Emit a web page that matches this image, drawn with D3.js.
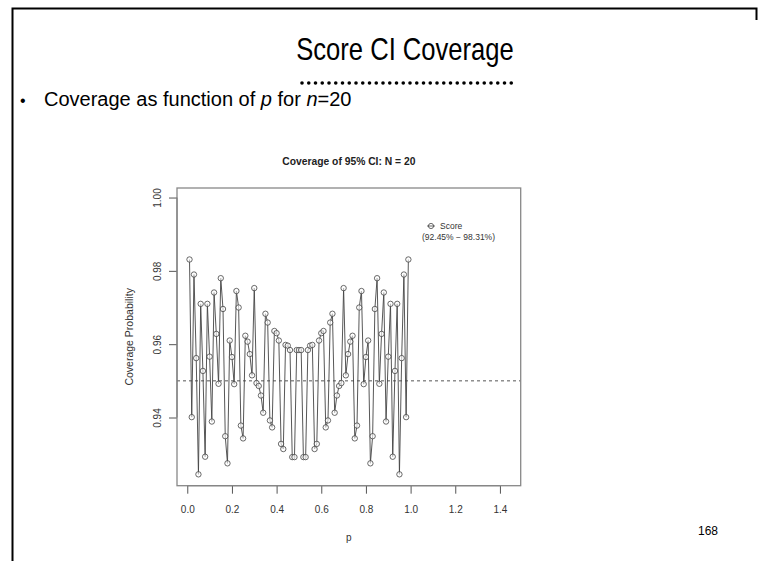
<!DOCTYPE html>
<html>
<head>
<meta charset="utf-8">
<script src="https://cdn.jsdelivr.net/npm/d3@7/dist/d3.min.js"></script>
<style>
  html, body { margin: 0; padding: 0; background: #fff; }
  svg { display: block; }
</style>
</head>
<body>
<svg id="chart" width="758" height="561"></svg>
<script>
// ---- data ----
const pValues = [
  0.01,0.02,0.03,0.04,0.05,0.06,0.07,0.08,0.09,0.10,
  0.11,0.12,0.13,0.14,0.15,0.16,0.17,0.18,0.19,0.20,
  0.21,0.22,0.23,0.24,0.25,0.26,0.27,0.28,0.29,0.30,
  0.31,0.32,0.33,0.34,0.35,0.36,0.37,0.38,0.39,0.40,
  0.41,0.42,0.43,0.44,0.45,0.46,0.47,0.48,0.49,0.50,
  0.51,0.52,0.53,0.54,0.55,0.56,0.57,0.58,0.59,0.60,
  0.61,0.62,0.63,0.64,0.65,0.66,0.67,0.68,0.69,0.70,
  0.71,0.72,0.73,0.74,0.75,0.76,0.77,0.78,0.79,0.80,
  0.81,0.82,0.83,0.84,0.85,0.86,0.87,0.88,0.89,0.90,
  0.91,0.92,0.93,0.94,0.95,0.96,0.97,0.98,0.99
];
const coverage = [
  0.9831,0.9401,0.9790,0.9562,0.9245,0.9710,0.9527,0.9293,0.9710,0.9566,
  0.9389,0.9741,0.9628,0.9492,0.9780,0.9696,0.9349,0.9275,0.9610,0.9565,
  0.9491,0.9745,0.9700,0.9378,0.9343,0.9623,0.9607,0.9573,0.9515,0.9753,
  0.9494,0.9486,0.9460,0.9413,0.9683,0.9659,0.9392,0.9373,0.9636,0.9630,
  0.9610,0.9328,0.9314,0.9598,0.9596,0.9584,0.9292,0.9292,0.9584,0.9584,
  0.9584,0.9292,0.9292,0.9584,0.9596,0.9598,0.9314,0.9328,0.9610,0.9630,
  0.9636,0.9373,0.9392,0.9659,0.9683,0.9413,0.9460,0.9486,0.9494,0.9753,
  0.9515,0.9573,0.9607,0.9623,0.9343,0.9378,0.9700,0.9745,0.9491,0.9565,
  0.9610,0.9275,0.9349,0.9696,0.9780,0.9492,0.9628,0.9741,0.9389,0.9566,
  0.9710,0.9293,0.9527,0.9710,0.9245,0.9562,0.9790,0.9401,0.9831
];
const xTicks = [0.0, 0.2, 0.4, 0.6, 0.8, 1.0, 1.2, 1.4];
const yTicks = [0.94, 0.96, 0.98, 1.00];
const nominal = 0.95;
const slideTitle = "Score CI Coverage";
const plotTitle = "Coverage of 95% CI: N = 20";
const legendLabel = "Score";
const legendRange = "(92.45% \u2212 98.31%)";
const pageNumber = "168";

// ---- drawing ----
const svg = d3.select("#chart");
const font = "Liberation Sans, Arial, Helvetica, sans-serif";

// slide frame
svg.append("path")
  .attr("d", "M12.5,561 L12.5,8.5 L756.5,8.5 L756.5,20")
  .attr("fill", "none").attr("stroke", "#000").attr("stroke-width", 2);

// slide title (slightly condensed face)
svg.append("text")
  .attr("transform", "translate(405,60) scale(0.8,1)")
  .attr("text-anchor", "middle")
  .attr("font-family", font).attr("font-size", 32)
  .attr("fill", "#000")
  .text(slideTitle);

// dotted rule under the title
const dots = d3.range(32);
svg.append("g").selectAll("circle").data(dots).join("circle")
  .attr("cx", d => 302 + d * 6.75)
  .attr("cy", 83)
  .attr("r", 1.8)
  .attr("fill", "#000");

// bullet line
svg.append("text")
  .attr("x", 20).attr("y", 106)
  .attr("font-family", font).attr("font-size", 16)
  .text("\u2022");
const bullet = svg.append("text")
  .attr("x", 44).attr("y", 106)
  .attr("font-family", font).attr("font-size", 20)
  .attr("fill", "#000");
bullet.append("tspan").text("Coverage as function of ");
bullet.append("tspan").attr("font-style", "italic").text("p");
bullet.append("tspan").text(" for ");
bullet.append("tspan").attr("font-style", "italic").text("n");
bullet.append("tspan").text("=20");

// page number
svg.append("text")
  .attr("x", 708).attr("y", 535)
  .attr("text-anchor", "middle")
  .attr("font-family", font).attr("font-size", 12)
  .text(pageNumber);

// ---- R-style plot ----
const pLeft = 177, pRight = 520.7, pTop = 188, pBottom = 485.7;
const x = d3.scaleLinear().domain([-0.046, 1.493]).range([pLeft, pRight]);
const y = d3.scaleLinear().domain([0.9214, 1.0026]).range([pBottom, pTop]);

const axisColor = "#555";

// plot title
svg.append("text")
  .attr("x", (pLeft + pRight) / 2).attr("y", 165)
  .attr("text-anchor", "middle")
  .attr("font-family", font).attr("font-size", 10.3).attr("font-weight", "bold")
  .attr("fill", "#222")
  .text(plotTitle);

// x axis
const xAxis = svg.append("g")
  .attr("transform", `translate(0,${pBottom})`)
  .call(d3.axisBottom(x).tickValues(xTicks).tickFormat(d3.format(".1f")).tickSize(8).tickPadding(12));
xAxis.select(".domain")
  .attr("d", `M${x(xTicks[0])},0H${x(xTicks[xTicks.length - 1])}`)
  .attr("stroke", axisColor);
xAxis.selectAll(".tick line").attr("stroke", axisColor);
xAxis.selectAll(".tick text")
  .attr("font-family", font).attr("font-size", 10).attr("fill", "#333");

// y axis
const yAxis = svg.append("g")
  .attr("transform", `translate(${pLeft},0)`)
  .call(d3.axisLeft(y).tickValues(yTicks).tickFormat(d3.format(".2f")).tickSize(8).tickPadding(0));
yAxis.select(".domain")
  .attr("d", `M0,${y(yTicks[0])}V${y(yTicks[yTicks.length - 1])}`)
  .attr("stroke", axisColor);
yAxis.selectAll(".tick line").attr("stroke", axisColor);
yAxis.selectAll(".tick text")
  .attr("font-family", font).attr("font-size", 10).attr("fill", "#333")
  .attr("x", null).attr("dy", null)
  .attr("text-anchor", "middle")
  .attr("transform", "translate(-16,0) rotate(-90)");

// axis titles
svg.append("text")
  .attr("transform", `translate(133,${(pTop + pBottom) / 2}) rotate(-90)`)
  .attr("text-anchor", "middle")
  .attr("font-family", font).attr("font-size", 10.5).attr("fill", "#333")
  .text("Coverage Probability");
svg.append("text")
  .attr("x", (pLeft + pRight) / 2).attr("y", 541)
  .attr("text-anchor", "middle")
  .attr("font-family", font).attr("font-size", 10).attr("fill", "#333")
  .text("p");

// reference line at nominal level
svg.append("line")
  .attr("x1", pLeft).attr("x2", pRight)
  .attr("y1", y(nominal)).attr("y2", y(nominal))
  .attr("stroke", "#555").attr("stroke-width", 1)
  .attr("stroke-dasharray", "3,3");

// data line + points
const pts = pValues.map((p, i) => ({ p, v: coverage[i] }));
svg.append("path")
  .datum(pts)
  .attr("fill", "none")
  .attr("stroke", "#444").attr("stroke-width", 0.9)
  .attr("d", d3.line().x(d => x(d.p)).y(d => y(d.v)));
svg.append("g").selectAll("circle").data(pts).join("circle")
  .attr("cx", d => x(d.p)).attr("cy", d => y(d.v))
  .attr("r", 2.7)
  .attr("fill", "#fff").attr("fill-opacity", 0.6)
  .attr("stroke", "#444").attr("stroke-width", 0.8);

// legend
svg.append("circle")
  .attr("cx", 431).attr("cy", 226).attr("r", 2.6)
  .attr("fill", "none").attr("stroke", "#444").attr("stroke-width", 0.8);
svg.append("line")
  .attr("x1", 427).attr("x2", 435).attr("y1", 226).attr("y2", 226)
  .attr("stroke", "#444").attr("stroke-width", 0.8);
svg.append("text")
  .attr("x", 440).attr("y", 229)
  .attr("font-family", font).attr("font-size", 8.5).attr("fill", "#333")
  .text(legendLabel);
svg.append("text")
  .attr("x", 422).attr("y", 240)
  .attr("font-family", font).attr("font-size", 8.5).attr("fill", "#333")
  .text(legendRange);

// plot box
svg.append("rect")
  .attr("x", pLeft).attr("y", pTop)
  .attr("width", pRight - pLeft).attr("height", pBottom - pTop)
  .attr("fill", "none").attr("stroke", "#888").attr("stroke-width", 1.3);
</script>
</body>
</html>
